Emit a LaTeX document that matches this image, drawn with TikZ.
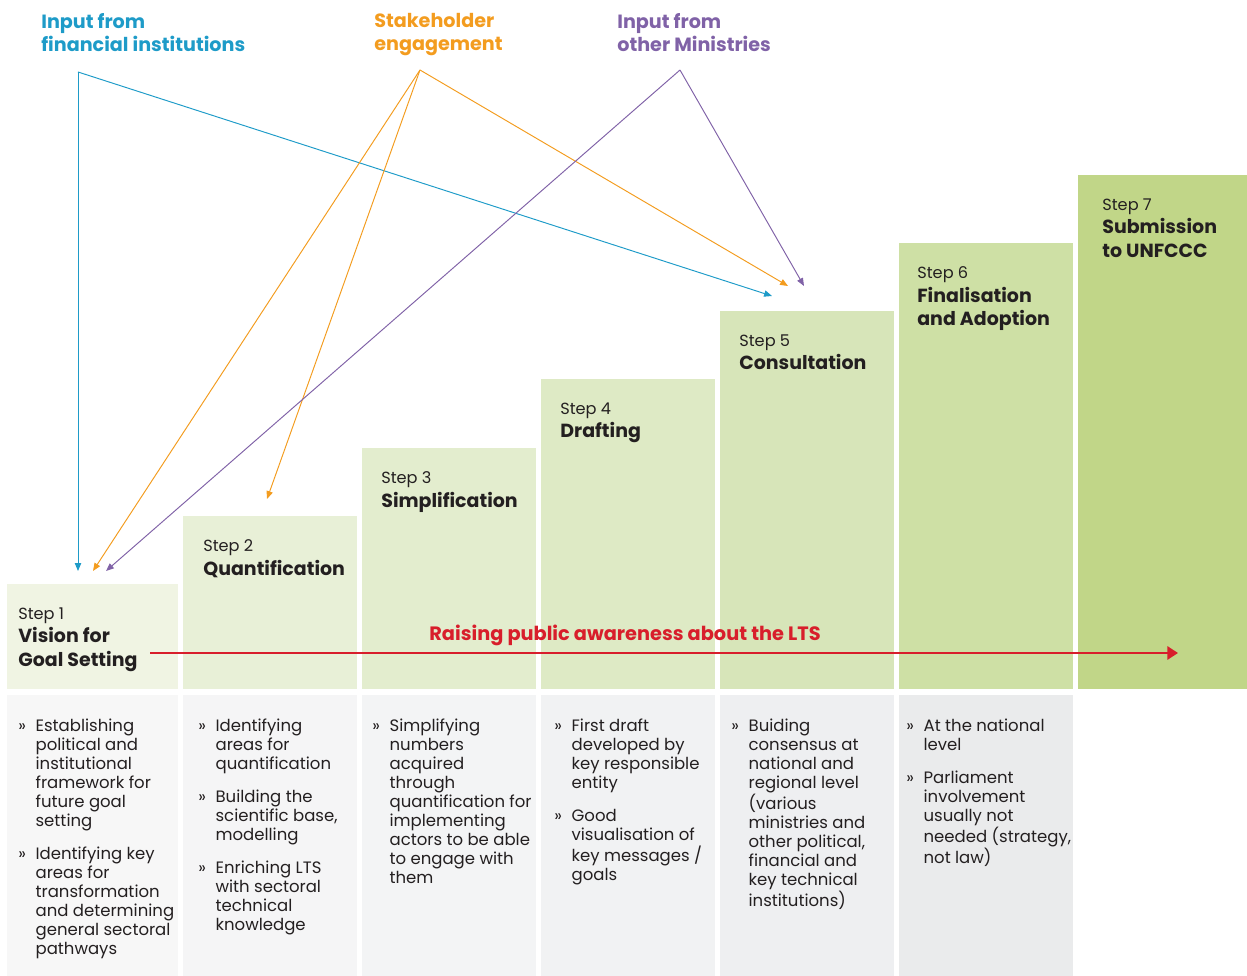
\documentclass[tikz,border=0pt]{standalone}
\usepackage{fontspec}
\setmainfont{Poppins}
\usetikzlibrary{arrows.meta,positioning,calc}

\definecolor{finblue}{HTML}{1E9BC8}
\definecolor{stakeorange}{HTML}{F39C1F}
\definecolor{minpurple}{HTML}{8062A7}
\definecolor{awarered}{HTML}{D81E2B}
\definecolor{darktext}{HTML}{231F20}
\definecolor{stepA}{HTML}{F0F4E3}
\definecolor{stepB}{HTML}{E8F0D7}
\definecolor{stepC}{HTML}{E3EDCE}
\definecolor{stepD}{HTML}{DEEAC5}
\definecolor{stepE}{HTML}{D7E5B9}
\definecolor{stepF}{HTML}{CEE0A5}
\definecolor{stepG}{HTML}{C1D688}
\definecolor{descA}{HTML}{F7F7F7}
\definecolor{descB}{HTML}{F5F5F6}
\definecolor{descC}{HTML}{F3F4F5}
\definecolor{descD}{HTML}{F1F2F3}
\definecolor{descE}{HTML}{EEEFF1}
\definecolor{descF}{HTML}{EAEBEC}

\newcommand{\stepno}[1]{{\fontsize{9.2}{13.4}\selectfont #1}}
\newcommand{\gsep}{\guillemotright}

\begin{document}
\begin{tikzpicture}[
    x=0.02cm,y=-0.02cm,
    stepbox/.style={rectangle,anchor=south west,inner sep=0pt,minimum width=3.48cm},
    descbox/.style={rectangle,anchor=north west,inner sep=0pt,minimum width=3.48cm,minimum height=5.62cm},
    steptext/.style={inner sep=0pt,align=left,text=darktext,font=\fontsize{10.8}{13.4}\selectfont},
    desctext/.style={inner sep=0pt,align=left,text=darktext,font=\fontsize{9.4}{10.8}\selectfont},
    source/.style={inner sep=0pt,anchor=north west,align=left,font=\bfseries\fontsize{10.9}{13}\selectfont},
    feed/.style={line width=0.55pt,-{Triangle[length=4.5pt,width=3.6pt]}},
    aware/.style={line width=1.1pt,awarered,-{Triangle[length=6pt,width=7.5pt]}}
]
    \useasboundingbox (0,0) rectangle (1247,976);

    % staircase of steps
    \node[stepbox,fill=stepA,minimum width=3.42cm,minimum height=2.10cm] (s1) at (7,689) {};
    \node[stepbox,fill=stepB,minimum height=3.46cm] (s2) at (183,689) {};
    \node[stepbox,fill=stepC,minimum height=4.82cm] (s3) at (362,689) {};
    \node[stepbox,fill=stepD,minimum height=6.20cm] (s4) at (541,689) {};
    \node[stepbox,fill=stepE,minimum height=7.56cm] (s5) at (720,689) {};
    \node[stepbox,fill=stepF,minimum height=8.92cm] (s6) at (899,689) {};
    \node[stepbox,fill=stepG,minimum width=3.38cm,minimum height=10.28cm] (s7) at (1078,689) {};

    \node[steptext,below right=0.48cm and 0.22cm of s1.north west] (t1) {\stepno{Step 1}\\\textbf{Vision for}\\\textbf{Goal Setting}};
    \node[steptext,below right=0.48cm and 0.40cm of s2.north west] (t2) {\stepno{Step 2}\\\textbf{Quantification}};
    \node[steptext,below right=0.48cm and 0.38cm of s3.north west] (t3) {\stepno{Step 3}\\\textbf{Simplification}};
    \node[steptext,below right=0.48cm and 0.38cm of s4.north west] (t4) {\stepno{Step 4}\\\textbf{Drafting}};
    \node[steptext,below right=0.48cm and 0.38cm of s5.north west] (t5) {\stepno{Step 5}\\\textbf{Consultation}};
    \node[steptext,below right=0.48cm and 0.36cm of s6.north west] (t6) {\stepno{Step 6}\\\textbf{Finalisation}\\\textbf{and Adoption}};
    \node[steptext,below right=0.48cm and 0.48cm of s7.north west] (t7) {\stepno{Step 7}\\\textbf{Submission}\\\textbf{to UNFCCC}};

    % activities under each step
    \node[descbox,fill=descA,minimum width=3.42cm] (d1) at (7,695) {};
    \node[descbox,fill=descB] (d2) at (183,695) {};
    \node[descbox,fill=descC] (d3) at (362,695) {};
    \node[descbox,fill=descD] (d4) at (541,695) {};
    \node[descbox,fill=descE] (d5) at (720,695) {};
    \node[descbox,fill=descF] (d6) at (899,695) {};

    \node[desctext,below right=0.46cm and 0.22cm of d1.north west] (l1) {\begin{tabular}{@{}l@{\hspace{5.5pt}}l@{}}
        \gsep & Establishing\\ & political and\\ & institutional\\ & framework for\\ & future goal\\ & setting\\[8pt]
        \gsep & Identifying key\\ & areas for\\ & transformation\\ & and determining\\ & general sectoral\\ & pathways
    \end{tabular}};
    \node[desctext,below right=0.46cm and 0.30cm of d2.north west] (l2) {\begin{tabular}{@{}l@{\hspace{5.5pt}}l@{}}
        \gsep & Identifying\\ & areas for\\ & quantification\\[8pt]
        \gsep & Building the\\ & scientific base,\\ & modelling\\[8pt]
        \gsep & Enriching LTS\\ & with sectoral\\ & technical\\ & knowledge
    \end{tabular}};
    \node[desctext,below right=0.46cm and 0.20cm of d3.north west] (l3) {\begin{tabular}{@{}l@{\hspace{5.5pt}}l@{}}
        \gsep & Simplifying\\ & numbers\\ & acquired\\ & through\\ & quantification for\\ & implementing\\ & actors to be able\\ & to engage with\\ & them
    \end{tabular}};
    \node[desctext,below right=0.46cm and 0.26cm of d4.north west] (l4) {\begin{tabular}{@{}l@{\hspace{5.5pt}}l@{}}
        \gsep & First draft\\ & developed by\\ & key responsible\\ & entity\\[8pt]
        \gsep & Good\\ & visualisation of\\ & key messages /\\ & goals
    \end{tabular}};
    \node[desctext,below right=0.46cm and 0.22cm of d5.north west] (l5) {\begin{tabular}{@{}l@{\hspace{5.5pt}}l@{}}
        \gsep & Buiding\\ & consensus at\\ & national and\\ & regional level\\ & (various\\ & ministries and\\ & other political,\\ & financial and\\ & key technical\\ & institutions)
    \end{tabular}};
    \node[desctext,below right=0.46cm and 0.14cm of d6.north west] (l6) {\begin{tabular}{@{}l@{\hspace{5.5pt}}l@{}}
        \gsep & At the national\\ & level\\[8pt]
        \gsep & Parliament\\ & involvement\\ & usually not\\ & needed (strategy,\\ & not law)
    \end{tabular}};

    % inputs feeding the steps
    \node[source,text=finblue] (fin) at (41,13) {Input from\\financial institutions};
    \node[source,text=stakeorange] (stake) at (374,13) {Stakeholder\\engagement};
    \node[source,text=minpurple] (mins) at (617,13) {Input from\\other Ministries};

    \coordinate (finTop) at (78,72);
    \coordinate (stakeTop) at (420,70);
    \coordinate (minTop) at (680,70);
    \coordinate (finEndA) at (78,571);
    \coordinate (finEndB) at (772,296);
    \coordinate (stakeEndA) at (93,571);
    \coordinate (stakeEndB) at (267,499);
    \coordinate (stakeEndC) at (788,286);
    \coordinate (minEndA) at (106,571);
    \coordinate (minEndB) at (804,286);

    \draw[feed,finblue] (finTop) -- (finEndA);
    \draw[feed,finblue] (finTop) -- (finEndB);
    \draw[feed,stakeorange] (stakeTop) -- (stakeEndA);
    \draw[feed,stakeorange] (stakeTop) -- (stakeEndB);
    \draw[feed,stakeorange] (stakeTop) -- (stakeEndC);
    \draw[feed,minpurple] (minTop) -- (minEndA);
    \draw[feed,minpurple] (minTop) -- (minEndB);

    % awareness runs through all steps
    \coordinate (awareStart) at (150,653);
    \coordinate (awareEnd) at (1178,653);
    \draw[aware] (awareStart) -- (awareEnd);
    \node[inner sep=0pt,anchor=base west,text=awarered,font=\bfseries\fontsize{11}{12}\selectfont] (awareLbl) at (429,640) {Raising public awareness about the LTS};
\end{tikzpicture}
\end{document}
